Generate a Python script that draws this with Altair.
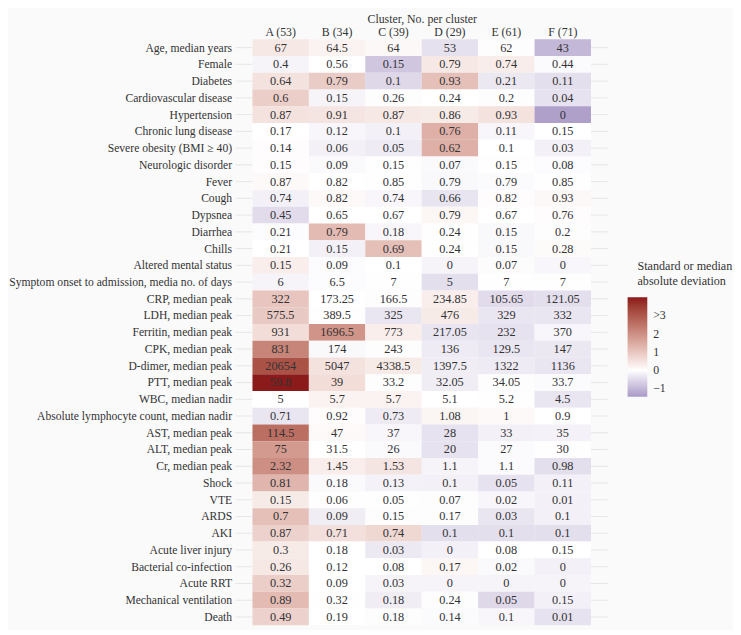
import altair as alt
import pandas as pd

rows = ["Age, median years", "Female", "Diabetes", "Cardiovascular disease", "Hypertension",
        "Chronic lung disease", "Severe obesity (BMI ≥ 40)", "Neurologic disorder", "Fever", "Cough",
        "Dypsnea", "Diarrhea", "Chills", "Altered mental status",
        "Symptom onset to admission, media no. of days", "CRP, median peak", "LDH, median peak",
        "Ferritin, median peak", "CPK, median peak", "D-dimer, median peak", "PTT, median peak",
        "WBC, median nadir", "Absolute lymphocyte count, median nadir", "AST, median peak",
        "ALT, median peak", "Cr, median peak", "Shock", "VTE", "ARDS", "AKI", "Acute liver injury",
        "Bacterial co-infection", "Acute RRT", "Mechanical ventilation", "Death"]

clusters = ["A (53)", "B (34)", "C (39)", "D (29)", "E (61)", "F (71)"]

vals_A = ["67", "0.4", "0.64", "0.6", "0.87", "0.17", "0.14", "0.15", "0.87", "0.74", "0.45", "0.21", "0.21",
          "0.15", "6", "322", "575.5", "931", "831", "20654", "59.8", "5", "0.71", "114.5", "75", "2.32",
          "0.81", "0.15", "0.7", "0.87", "0.3", "0.26", "0.32", "0.89", "0.49"]
vals_B = ["64.5", "0.56", "0.79", "0.15", "0.91", "0.12", "0.06", "0.09", "0.82", "0.82", "0.65", "0.79", "0.15",
          "0.09", "6.5", "173.25", "389.5", "1696.5", "174", "5047", "39", "5.7", "0.92", "47", "31.5", "1.45",
          "0.18", "0.06", "0.09", "0.71", "0.18", "0.12", "0.09", "0.32", "0.19"]
vals_C = ["64", "0.15", "0.1", "0.26", "0.87", "0.1", "0.05", "0.15", "0.85", "0.74", "0.67", "0.18", "0.69",
          "0.1", "7", "166.5", "325", "773", "243", "4338.5", "33.2", "5.7", "0.73", "37", "26", "1.53",
          "0.13", "0.05", "0.15", "0.74", "0.03", "0.08", "0.03", "0.18", "0.18"]
vals_D = ["53", "0.79", "0.93", "0.24", "0.86", "0.76", "0.62", "0.07", "0.79", "0.66", "0.79", "0.24", "0.24",
          "0", "5", "234.85", "476", "217.05", "136", "1397.5", "32.05", "5.1", "1.08", "28", "20", "1.1",
          "0.1", "0.07", "0.17", "0.1", "0", "0.17", "0", "0.24", "0.14"]
vals_E = ["62", "0.74", "0.21", "0.2", "0.93", "0.11", "0.1", "0.15", "0.79", "0.82", "0.67", "0.15", "0.15",
          "0.07", "7", "105.65", "329", "232", "129.5", "1322", "34.05", "5.2", "1", "33", "27", "1.1",
          "0.05", "0.02", "0.03", "0.1", "0.08", "0.02", "0", "0.05", "0.1"]
vals_F = ["43", "0.44", "0.11", "0.04", "0", "0.15", "0.03", "0.08", "0.85", "0.93", "0.76", "0.2", "0.28",
          "0", "7", "121.05", "332", "370", "147", "1136", "33.7", "4.5", "0.9", "35", "30", "0.98",
          "0.11", "0.01", "0.1", "0.1", "0.15", "0", "0", "0.15", "0.01"]

# standardized deviation (colour)
z_A = [0.4, -0.15, 0.5, 0.85, 0.5, 0.0, 0.05, 0.05, 0.1, -0.2, -0.5, -0.05, 0.0, 0.3, -0.15, 1.0, 0.95, 0.6,
       2.2, 3.1, 4.0, 0.0, -0.35, 2.6, 1.8, 2.0, 1.3, 0.35, 1.1, 0.8, 0.35, 0.4, 0.85, 1.2, 0.8]
z_B = [0.2, 0.0, 0.9, -0.15, 0.45, -0.12, -0.2, -0.08, 0.0, 0.1, 0.0, 1.2, -0.2, -0.05, -0.05, 0.0, 0.02, 1.9,
       -0.1, 0.5, 0.6, 0.2, 0.05, 0.1, 0.0, 0.3, -0.08, -0.02, -0.25, 0.55, 0.0, 0.0, 0.0, 0.02, 0.0]
z_C = [0.12, -0.8, -0.55, 0.03, 0.4, -0.2, -0.28, 0.02, 0.02, -0.12, 0.0, -0.12, 1.1, 0.0, 0.02, -0.03, -0.35,
       0.3, 0.03, 0.35, -0.03, 0.2, -0.28, -0.12, -0.08, 0.45, -0.18, -0.02, -0.03, 0.7, -0.3, 0.0, -0.15,
       -0.25, -0.03]
z_D = [-0.42, 0.4, 1.1, 0.0, 0.35, 1.4, 1.4, -0.08, -0.1, -0.38, 0.15, 0.02, 0.02, -0.15, -0.45, 0.3, 0.35,
       -0.38, -0.28, -0.25, -0.25, 0.0, 0.18, -0.4, -0.4, -0.15, -0.2, -0.03, -0.03, -0.45, -0.2, 0.15, -0.15,
       -0.03, -0.07]
z_E = [0.03, 0.32, -0.32, -0.03, 0.5, -0.12, 0.0, 0.02, -0.06, 0.05, 0.0, -0.1, -0.1, -0.04, 0.02, -0.5, -0.35,
       -0.4, -0.35, -0.28, -0.03, 0.02, 0.1, -0.2, -0.07, -0.07, -0.4, -0.12, -0.35, -0.45, 0.0, -0.08, -0.15,
       -0.55, -0.12]
z_F = [-1.0, -0.07, -0.45, -0.4, -1.35, 0.0, -0.2, -0.05, 0.02, 0.12, 0.05, -0.03, 0.08, -0.12, 0.02, -0.45,
       -0.35, -0.12, -0.32, -0.35, -0.06, -0.35, 0.0, -0.18, -0.02, -0.45, -0.2, -0.2, -0.2, -0.45, 0.0, -0.2,
       -0.15, -0.2, -0.4]

legend_values = [-1, 0, 1, 2, 3]
legend_title = ["Standard or median", "absolute deviation"]

vals = [vals_A, vals_B, vals_C, vals_D, vals_E, vals_F]
zs = [z_A, z_B, z_C, z_D, z_E, z_F]
records = []
for ci, c in enumerate(clusters):
    for ri, r in enumerate(rows):
        records.append({"cluster": c, "row": r, "label": vals[ci][ri], "z": zs[ci][ri]})
df = pd.DataFrame(records)
grid_df = pd.DataFrame({"row": rows})
title_df = pd.DataFrame({"t": ["\n".join(legend_title)]})

W, H = 378, 595
FONT = "Liberation Serif"

x_enc = alt.X("cluster:N", sort=clusters,
              scale=alt.Scale(paddingInner=0, paddingOuter=0.3),
              axis=alt.Axis(orient="top", title="Cluster, No. per cluster", labelAngle=0,
                            labelPadding=1, titlePadding=0))
y_enc = alt.Y("row:N", sort=rows,
              scale=alt.Scale(paddingInner=0, paddingOuter=0),
              axis=alt.Axis(title=None, labelPadding=4, labelFontSize=11.8, labelLimit=0))

grid = alt.Chart(grid_df).mark_rule(color="#e6e6e6", strokeWidth=1).encode(
    y=y_enc, x=alt.value(0), x2=alt.value(W))

tiles = alt.Chart(df).mark_rect(strokeWidth=0).encode(
    x=x_enc, y=y_enc,
    color=alt.Color("z:Q",
                    scale=alt.Scale(domain=[-1.46, 0, 4],
                                    range=["#a999c6", "#ffffff", "#8b1a1a"],
                                    interpolate="lab"),
                    legend=alt.Legend(orient="none", legendX=398, legendY=262,
                                      direction="vertical", title=None,
                                      gradientLength=101, gradientThickness=20,
                                      gradientStrokeWidth=0,
                                      values=legend_values,
                                      labelExpr="datum.value == 3 ? '>3' : (datum.value == -1 ? '\u22121' : datum.label)",
                                      labelOffset=6)))

text = alt.Chart(df).mark_text(font=FONT, fontSize=12.5, color="#333333").encode(
    x=x_enc, y=y_enc, text="label:N")

leg_title = alt.Chart(title_df).mark_text(
    font=FONT, fontSize=12.3, color="#333333", align="left", baseline="middle",
    lineBreak="\n", lineHeight=15.5
).encode(x=alt.value(408), y=alt.value(230), text="t:N")

chart = alt.layer(grid, tiles, text, leg_title).properties(
    width=W, height=H, background="#fafafa", padding=0
).configure_view(stroke=None).configure_axis(
    labelFont=FONT, titleFont=FONT, labelFontSize=12, titleFontSize=12,
    titleFontWeight="normal", labelColor="#333333", titleColor="#333333",
    domain=False, ticks=False, grid=False
).configure_legend(
    labelFont=FONT, labelFontSize=12, labelColor="#333333"
)

chart.save("out.html", embed_options={"renderer": "svg", "actions": False})
